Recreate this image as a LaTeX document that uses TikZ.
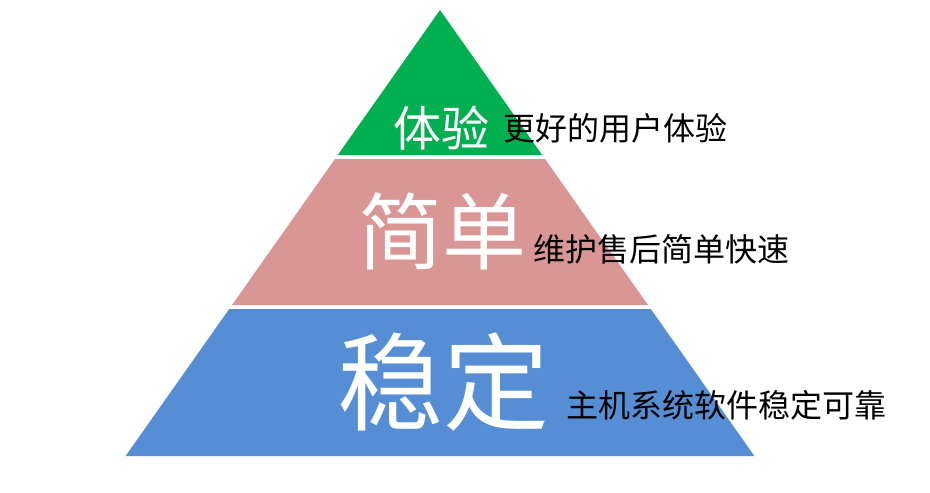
\documentclass[tikz,border=0pt]{standalone}
\usepackage{fontspec}
\setmainfont{Noto Sans CJK SC}
\definecolor{topgreen}{RGB}{0,176,80}
\definecolor{midpink}{RGB}{217,150,148}
\definecolor{basblue}{RGB}{85,142,213}
\tikzset{
  layer/.style={draw=none},
  bigword/.style={text=white, inner sep=0pt, anchor=center},
  note/.style={text=black, inner sep=0pt, anchor=west, font=\fontsize{32}{32}\selectfont}
}
\begin{document}
\begin{tikzpicture}[x=1pt, y=-1pt]
    \useasboundingbox (0,0) rectangle (930,493);

    % Layers
    \fill[topgreen] (440,10) -- (542.2,155) -- (337.8,155) -- cycle;
    \fill[midpink] (335,159) -- (545,159) -- (648,305) -- (232,305) -- cycle;
    \fill[basblue] (229.2,309) -- (650.8,309) -- (754.4,456) -- (125.6,456) -- cycle;

    % Layer titles
    \node[bigword, font=\fontsize{48}{48}\selectfont] (ux) at (441,128) {体验};
    \node[bigword, font=\fontsize{84}{84}\selectfont] (easy) at (442,231) {简单};
    \node[bigword, font=\fontsize{106}{106}\selectfont] (stable) at (443,382) {稳定};

    % Notes
    \node[note] (uxnote) at (503,128) {更好的用户体验};
    \node[note] (easynote) at (533,249) {维护售后简单快速};
    \node[note] (stablenote) at (566,405) {主机系统软件稳定可靠};
\end{tikzpicture}
\end{document}
